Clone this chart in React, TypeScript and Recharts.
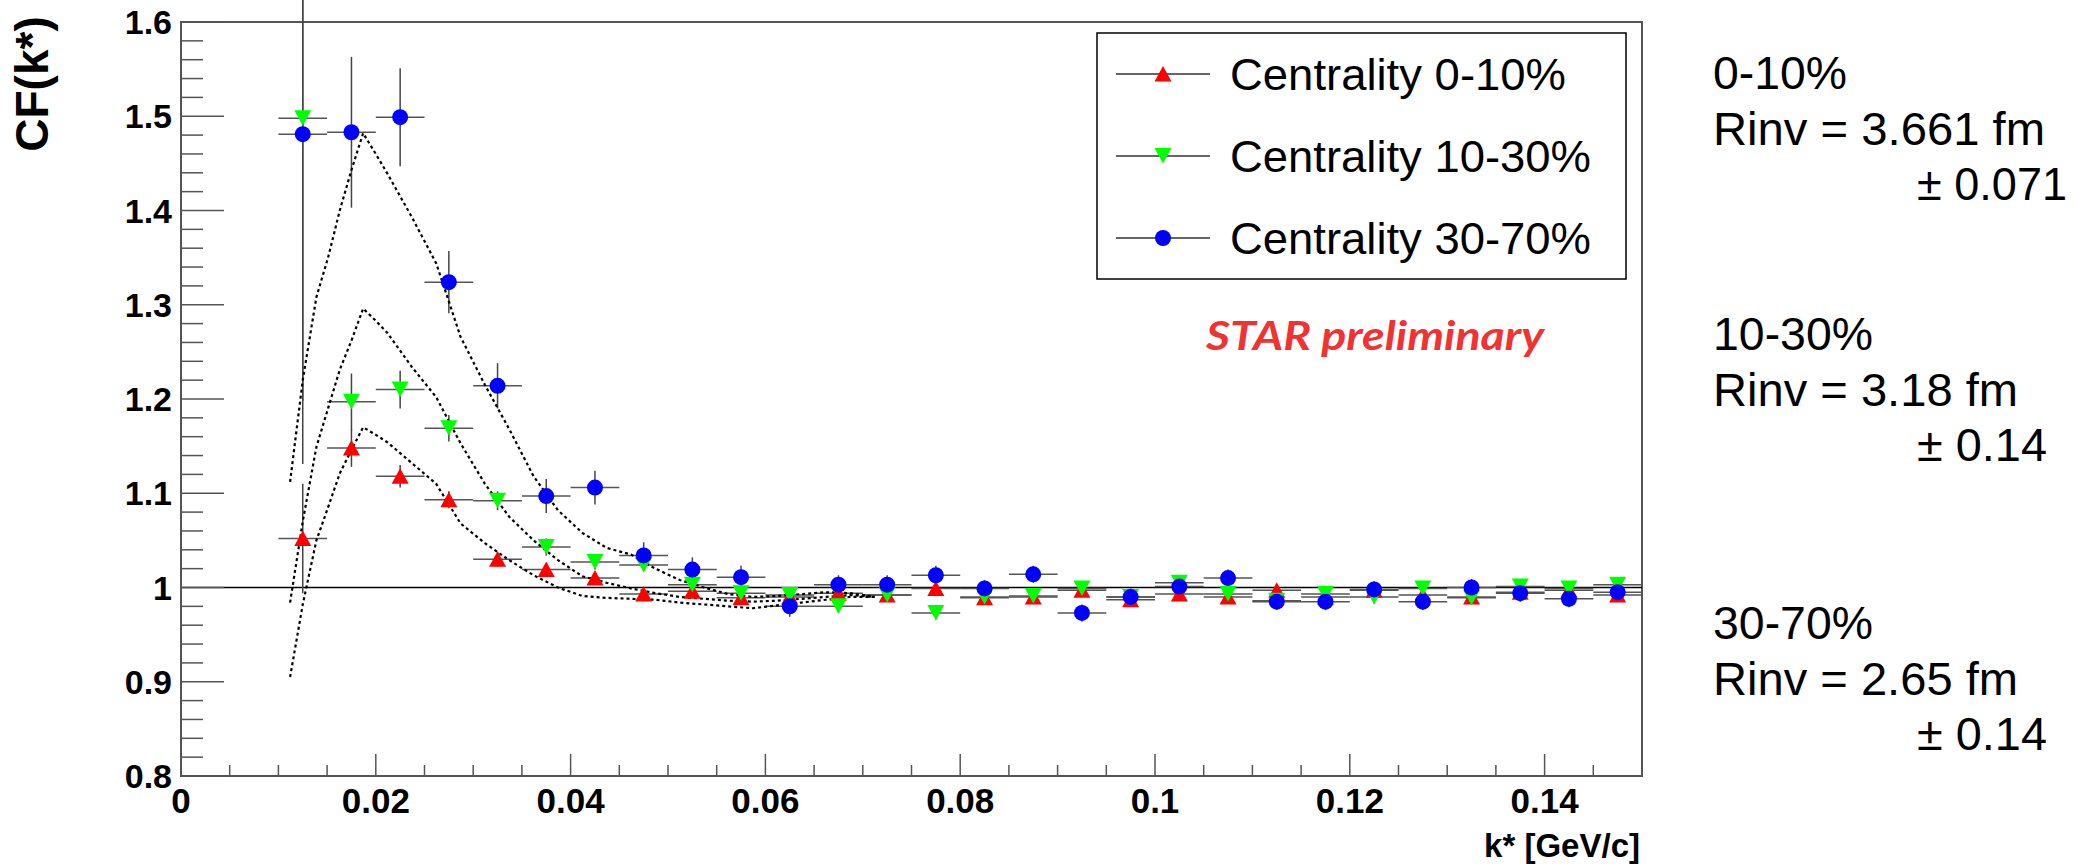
import React from "react";
import {
  ComposedChart,
  Scatter,
  Line,
  XAxis,
  YAxis,
  ErrorBar,
  ReferenceLine,
  ReferenceArea,
} from "recharts";

// bin centres of k* [GeV/c]
const kBins = [
  0.0125, 0.0175, 0.0225, 0.0275, 0.0325, 0.0375, 0.0425, 0.0475, 0.0525, 0.0575,
  0.0625, 0.0675, 0.0725, 0.0775, 0.0825, 0.0875, 0.0925, 0.0975, 0.1025, 0.1075,
  0.1125, 0.1175, 0.1225, 0.1275, 0.1325, 0.1375, 0.1425, 0.1475,
];
const halfBin = 0.0025;

const cf0to10 = [
  1.052, 1.148, 1.118, 1.093, 1.03, 1.019, 1.01, 0.993, 0.996, 0.989,
  0.99, 0.994, 0.992, 0.999, 0.989, 0.99, 0.997, 0.987, 0.993, 0.99,
  0.997, 0.99, 0.997, 0.992, 0.99, 0.995, 0.997, 0.992,
];
const cf10to30 = [
  1.498, 1.197, 1.21, 1.169, 1.092, 1.043, 1.027, 1.024, 1.003, 0.994,
  0.992, 0.98, 0.992, 0.973, 0.99, 0.991, 0.999, 0.99, 1.005, 0.993,
  0.986, 0.993, 0.99, 0.999, 0.989, 1.001, 0.999, 1.003,
];
const cf30to70 = [
  1.481, 1.483, 1.499, 1.324, 1.214, 1.097, 1.106, 1.034, 1.019, 1.011,
  0.98, 1.003, 1.003, 1.013, 0.999, 1.014, 0.973, 0.99, 1.001, 1.01,
  0.985, 0.985, 0.998, 0.985, 1.0, 0.994, 0.988, 0.995,
];

const err0to10 = [
  0.058, 0.02, 0.012, 0.009, 0.008, 0.007, 0.007, 0.006, 0.006, 0.006,
  0.006, 0.006, 0.006, 0.006, 0.006, 0.006, 0.006, 0.006, 0.006, 0.006,
  0.006, 0.006, 0.006, 0.006, 0.006, 0.006, 0.006, 0.006,
];
const err10to30 = [
  0.3, 0.03, 0.02, 0.014, 0.01, 0.009, 0.008, 0.007, 0.007, 0.007,
  0.007, 0.007, 0.007, 0.007, 0.007, 0.007, 0.007, 0.007, 0.007, 0.007,
  0.007, 0.007, 0.007, 0.007, 0.007, 0.007, 0.007, 0.007,
];
const err30to70 = [
  0.35, 0.08, 0.052, 0.033, 0.024, 0.018, 0.018, 0.014, 0.013, 0.012,
  0.011, 0.01, 0.01, 0.01, 0.009, 0.009, 0.009, 0.009, 0.009, 0.009,
  0.009, 0.009, 0.009, 0.009, 0.009, 0.009, 0.009, 0.009,
];

// fitted curves (dotted)
const fitK = [
  0.0112, 0.0125, 0.0139, 0.0151, 0.0163, 0.0175, 0.0187, 0.02, 0.0212, 0.0237,
  0.0262, 0.0287, 0.0312, 0.0337, 0.0362, 0.0387, 0.0412, 0.0437, 0.0462, 0.0487,
  0.0512, 0.0537, 0.0562, 0.0587, 0.0612, 0.0637, 0.0662, 0.0687, 0.0712,
];
const fit0to10 = [
  0.905, 0.982, 1.05, 1.085, 1.121, 1.146, 1.17, 1.162, 1.154, 1.132,
  1.11, 1.068, 1.047, 1.029, 1.013, 1.0, 0.991, 0.989, 0.988, 0.987,
  0.984, 0.982, 0.98, 0.978, 0.981, 0.984, 0.987, 0.99, 0.99,
];
const fit10to30 = [
  0.984, 1.07, 1.149, 1.19, 1.231, 1.262, 1.296, 1.283, 1.27, 1.234,
  1.202, 1.153, 1.11, 1.075, 1.05, 1.029, 1.012, 1.005, 0.999, 0.994,
  0.99, 0.988, 0.986, 0.985, 0.986, 0.988, 0.99, 0.992, 0.99,
];
const fit30to70 = [
  1.112, 1.22, 1.308, 1.35, 1.4, 1.443, 1.482, 1.46, 1.439, 1.393,
  1.344, 1.266, 1.215, 1.168, 1.118, 1.082, 1.058, 1.042, 1.035, 1.02,
  1.008, 1.0, 0.993, 0.99, 0.991, 0.993, 0.995, 0.994, 0.99,
];

const xTicks = Array.from({ length: 31 }, (_, i) => Number((i * 0.005).toFixed(3)));
const yTicks = Array.from({ length: 41 }, (_, i) => Number((0.8 + i * 0.02).toFixed(2)));

const rinvNotes = [
  { title: "0-10%", value: "Rinv = 3.661 fm", err: "± 0.071" },
  { title: "10-30%", value: "Rinv = 3.18 fm", err: "± 0.14" },
  { title: "30-70%", value: "Rinv = 2.65 fm", err: "± 0.14" },
];
const noteTops = [72, 333, 622];
const noteWidths = [
  [134, 332, 150],
  [160, 305, 130],
  [160, 305, 130],
];
const legendWidths = [336, 361, 361];

const FONT = "'Liberation Sans', Arial, Helvetica, sans-serif";

const rows = (vals: number[], errs: number[]) =>
  kBins.map((k, i) => ({ k, cf: vals[i], ey: errs[i], ex: halfBin }));
const fitRows = (vals: number[]) => fitK.map((k, i) => ({ k, cf: vals[i] }));

const TriUp = ({ cx, cy, fill }: any) => (
  <polygon points={`${cx},${cy - 8} ${cx - 8.5},${cy + 7.5} ${cx + 8.5},${cy + 7.5}`} fill={fill} />
);
const TriDown = ({ cx, cy, fill }: any) => (
  <polygon points={`${cx - 8.5},${cy - 8} ${cx + 8.5},${cy - 8} ${cx},${cy + 7.5}`} fill={fill} />
);
const Dot = ({ cx, cy, fill }: any) => <circle cx={cx} cy={cy} r={8} fill={fill} />;

const series = [
  { name: "Centrality 0-10%", color: "#ff0000", shape: TriUp, data: rows(cf0to10, err0to10), fit: fitRows(fit0to10) },
  { name: "Centrality 10-30%", color: "#00ff00", shape: TriDown, data: rows(cf10to30, err10to30), fit: fitRows(fit10to30) },
  { name: "Centrality 30-70%", color: "#0000ff", shape: Dot, data: rows(cf30to70, err30to70), fit: fitRows(fit30to70) },
];

const fmt = (v: number) => String(Number(v.toFixed(3)));

const XTick = ({ x, y, payload }: any) => {
  const v = payload.value;
  const major = Math.round(v * 1000) % 20 === 0;
  return (
    <g>
      <line x1={x} x2={x} y1={y} y2={y - (major ? 22 : 11)} stroke="#555" strokeWidth={1.5} />
      {major && (
        <text x={x} y={y + 37} textAnchor="middle" fontFamily={FONT} fontWeight="bold" fontSize={35} fill="#000">
          {fmt(v)}
        </text>
      )}
    </g>
  );
};

const YTick = ({ x, y, payload }: any) => {
  const v = payload.value;
  const major = Math.round(v * 100) % 10 === 0;
  return (
    <g>
      <line x1={x} x2={x + (major ? 43 : 22)} y1={y} y2={y} stroke="#555" strokeWidth={1.5} />
      {major && (
        <text x={x - 9} y={y + 12} textAnchor="end" fontFamily={FONT} fontWeight="bold" fontSize={34} fill="#000">
          {fmt(v)}
        </text>
      )}
    </g>
  );
};

export default function App() {
  return (
    <div style={{ position: "absolute", left: 0, top: 0, width: 2078, height: 866, background: "#fff" }}>
      <ComposedChart width={2078} height={866} margin={{ top: 22, right: 436, bottom: 30, left: 81 }}>
        <XAxis
          dataKey="k"
          type="number"
          domain={[0, 0.15]}
          allowDataOverflow
          ticks={xTicks}
          interval={0}
          height={60}
          tickSize={0}
          tickMargin={0}
          tick={<XTick />}
          axisLine={{ stroke: "#555", strokeWidth: 2 }}
        />
        <YAxis
          dataKey="cf"
          type="number"
          domain={[0.8, 1.6]}
          allowDataOverflow
          ticks={yTicks}
          interval={0}
          width={100}
          tickSize={0}
          tickMargin={0}
          tick={<YTick />}
          axisLine={{ stroke: "#555", strokeWidth: 2 }}
        />
        <ReferenceArea x1={0} x2={0.15} y1={0.8} y2={1.6} fill="none" stroke="#555" strokeWidth={2} />
        <ReferenceLine y={1} stroke="#000" strokeWidth={1.5} />
        {series.map((s) => (
          <Scatter
            key={s.name}
            name={s.name}
            data={s.data}
            fill={s.color}
            shape={(p: any) => <s.shape cx={p.cx} cy={p.cy} fill={s.color} />}
            isAnimationActive={false}
          >
            <ErrorBar dataKey="ex" direction="x" width={0} stroke="#555" strokeWidth={1.5} isAnimationActive={false} />
            <ErrorBar dataKey="ey" direction="y" width={0} stroke="#444" strokeWidth={1.5} isAnimationActive={false} />
          </Scatter>
        ))}
        {series.map((s) => (
          <Line
            key={s.name + "-fit"}
            data={s.fit}
            dataKey="cf"
            type="linear"
            stroke="#000"
            strokeWidth={2.2}
            strokeDasharray="3 3"
            dot={false}
            activeDot={false}
            isAnimationActive={false}
          />
        ))}
      </ComposedChart>
      <svg width={2078} height={866} style={{ position: "absolute", left: 0, top: 0, pointerEvents: "none" }}>
        <text transform="translate(48,84) rotate(-90)" textAnchor="middle" fontFamily={FONT} fontWeight="bold" fontSize={46}>
          CF(k*)
        </text>
        <text x={1640} y={857} textAnchor="end" fontFamily={FONT} fontWeight="bold" fontSize={33}>
          k* [GeV/c]
        </text>
        <rect x={1097} y={33} width={529} height={246} fill="#fff" stroke="#000" strokeWidth={1.5} />
        {series.map((s, i) => {
          const cy = 74 + i * 82;
          return (
            <g key={s.name}>
              <line x1={1116} x2={1210} y1={cy} y2={cy} stroke="#666" strokeWidth={2} />
              <s.shape cx={1163} cy={cy} fill={s.color} />
              <text
                x={1230}
                y={cy + 16}
                textLength={legendWidths[i]}
                lengthAdjust="spacingAndGlyphs"
                fontFamily={FONT}
                fontSize={45}
                fill="#000"
              >
                {s.name}
              </text>
            </g>
          );
        })}
        <text
          x={1206}
          y={350}
          textLength={338}
          lengthAdjust="spacingAndGlyphs"
          fontFamily="Lato, 'Open Sans', sans-serif"
          fontWeight="bold"
          fontStyle="italic"
          fontSize={40}
          fill="#f03232"
        >
          STAR preliminary
        </text>
        {rinvNotes.map((n, i) => {
          const top = noteTops[i];
          const w = noteWidths[i];
          return (
            <g key={n.title} fontFamily={FONT} fontSize={47} fill="#000">
              <text x={1713} y={top + 17} textLength={w[0]} lengthAdjust="spacingAndGlyphs">{n.title}</text>
              <text x={1713} y={top + 73} textLength={w[1]} lengthAdjust="spacingAndGlyphs">{n.value}</text>
              <text x={1917} y={top + 128} textLength={w[2]} lengthAdjust="spacingAndGlyphs">{n.err}</text>
            </g>
          );
        })}
      </svg>
    </div>
  );
}
